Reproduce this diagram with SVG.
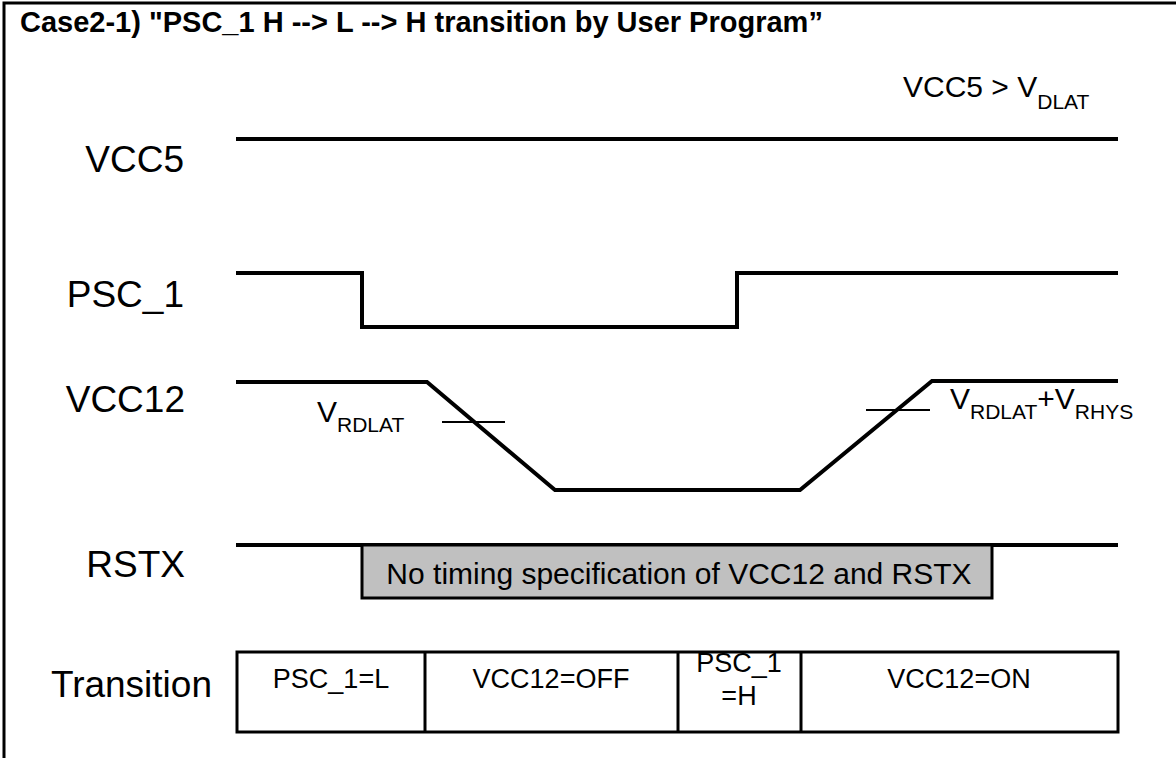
<svg xmlns="http://www.w3.org/2000/svg" width="1176" height="758" viewBox="0 0 1176 758">
<style>
text{font-family:"Liberation Sans",Arial,sans-serif;fill:#000}
.lbl{font-size:37px;text-anchor:end}
.sig{fill:none;stroke:#000;stroke-width:4;stroke-linejoin:miter}
.tick{stroke:#000;stroke-width:2}
.cell{font-size:27px;text-anchor:middle}
.v{font-size:30px}
.sub{font-size:21px}
</style>
<rect width="1176" height="758" fill="#fff"/>
<g id="frame">
<path d="M4,758 V3 H1176" fill="none" stroke="#000" stroke-width="3"/>
<text x="20" y="32" font-size="29" font-weight="bold">Case2-1) "PSC_1 H --&gt; L --&gt; H transition by User Program”</text>
</g>
<g id="labels">
<text class="lbl" x="184" y="172">VCC5</text>
<text class="lbl" x="184" y="307">PSC_1</text>
<text class="lbl" x="185" y="412">VCC12</text>
<text class="lbl" x="185" y="577">RSTX</text>
<text class="lbl" x="212" y="697">Transition</text>
</g>
<g id="connectors">
<path id="vcc5" class="sig" d="M236,139 H1118"/>
<path id="psc1" class="sig" d="M236,273 H362 V327 H737 V273 H1118"/>
<path id="vcc12" class="sig" d="M236,382 H427 L555,490 H800 L932,381 H1118"/>
<path id="rstx" class="sig" d="M236,545 H1118"/>
<line class="tick" x1="442" y1="422" x2="505" y2="422"/>
<line class="tick" x1="866" y1="410" x2="930" y2="410"/>
</g>
<g id="cond">
<text class="v" x="903" y="97">VCC5 &gt; V<tspan class="sub" dy="12">DLAT</tspan></text>
</g>
<g id="vrdlat">
<text class="v" x="317" y="422">V<tspan class="sub" dy="10">RDLAT</tspan></text>
</g>
<g id="vrhys">
<text class="v" x="950" y="409">V<tspan class="sub" dy="10">RDLAT</tspan><tspan dy="-10">+V</tspan><tspan class="sub" dy="10">RHYS</tspan></text>
</g>
<g id="nospec">
<rect x="362" y="545" width="630" height="53" fill="#c0c0c0" stroke="#000" stroke-width="3"/>
<text x="679" y="584" font-size="30" text-anchor="middle">No timing specification of VCC12 and RSTX</text>
</g>
<g id="transition">
<rect x="237" y="652" width="881" height="80" fill="#fff" stroke="#000" stroke-width="3"/>
<line x1="425" y1="652" x2="425" y2="732" stroke="#000" stroke-width="3"/>
<line x1="678" y1="652" x2="678" y2="732" stroke="#000" stroke-width="3"/>
<line x1="801" y1="652" x2="801" y2="732" stroke="#000" stroke-width="3"/>
<text class="cell" x="331" y="688">PSC_1=L</text>
<text class="cell" x="551" y="688">VCC12=OFF</text>
<text class="cell" x="739" y="672">PSC_1</text>
<text class="cell" x="739" y="705">=H</text>
<text class="cell" x="959" y="688">VCC12=ON</text>
</g>
</svg>
